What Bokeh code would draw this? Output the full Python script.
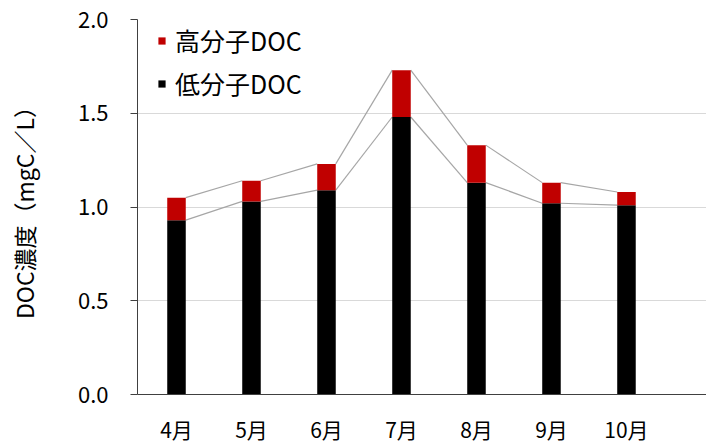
from bokeh.plotting import figure
from bokeh.models import ColumnDataSource, Range1d, FixedTicker, Legend, LegendItem
from bokeh.embed import file_html
from bokeh.resources import INLINE

# Monthly DOC concentration (mgC/L), split by molecular size
months = ["4月", "5月", "6月", "7月", "8月", "9月", "10月"]
low_doc = [0.93, 1.03, 1.09, 1.48, 1.13, 1.02, 1.01]   # 低分子DOC
high_doc = [0.12, 0.11, 0.14, 0.25, 0.20, 0.11, 0.07]  # 高分子DOC
y_ticks = [0.0, 0.5, 1.0, 1.5, 2.0]

FONT = "Noto Sans CJK JP"
BAR_W = 0.247

xs = list(range(len(months)))
totals = [a + b for a, b in zip(low_doc, high_doc)]
src = ColumnDataSource(dict(x=xs, low=low_doc, high=high_doc))

p = figure(width=706, height=446, output_backend="svg", toolbar_location=None,
           x_range=Range1d(-0.52, 7.067), y_range=Range1d(0, 2.0),
           min_border_left=137, min_border_right=0, min_border_top=19,
           min_border_bottom=49)
p.outline_line_color = None
p.background_fill_color = "white"
p.border_fill_color = "white"

# series lines joining the bar corners of neighbouring months
def series_lines(vals):
    return dict(x0=[x + BAR_W / 2 for x in xs[:-1]], x1=[x - BAR_W / 2 for x in xs[1:]],
                y0=vals[:-1], y1=vals[1:])

p.segment(source=ColumnDataSource(series_lines(low_doc)), x0="x0", y0="y0", x1="x1", y1="y1",
          line_color="#a6a6a6", line_width=1.2)
p.segment(source=ColumnDataSource(series_lines(totals)), x0="x0", y0="y0", x1="x1", y1="y1",
          line_color="#a6a6a6", line_width=1.2)

r_low, r_high = p.vbar_stack(["low", "high"], x="x", width=BAR_W, source=src,
                             fill_color=["#000000", "#c00000"], line_color=None)

# axes
p.xaxis.ticker = FixedTicker(ticks=xs)
p.xaxis.major_label_overrides = {i: m for i, m in enumerate(months)}
p.xaxis.major_tick_out = 0
p.xaxis.major_tick_in = 0
p.xaxis.minor_tick_line_color = None
p.xaxis.major_label_standoff = 19
p.xaxis.axis_line_color = "#404040"
p.xaxis.major_label_text_font = FONT
p.xaxis.major_label_text_font_size = "21px"
p.xaxis.major_label_text_color = "black"

p.yaxis.ticker = FixedTicker(ticks=y_ticks)
p.yaxis.formatter.use_scientific = False
p.yaxis.major_label_overrides = {t: f"{t:.1f}" for t in y_ticks}
p.yaxis.major_tick_out = 7
p.yaxis.major_tick_in = 0
p.yaxis.minor_tick_line_color = None
p.yaxis.axis_line_color = "#404040"
p.yaxis.major_tick_line_color = "#404040"
p.yaxis.major_label_standoff = 22
p.yaxis.major_label_text_font = FONT
p.yaxis.major_label_text_font_size = "22px"
p.yaxis.major_label_text_color = "black"
p.yaxis.axis_label = "DOC濃度（mgC／L）"
p.yaxis.axis_label_text_font = FONT
p.yaxis.axis_label_text_font_style = "normal"
p.yaxis.axis_label_text_font_size = "23px"
p.yaxis.axis_label_text_color = "black"
p.yaxis.axis_label_standoff = 34

p.xgrid.grid_line_color = None
p.ygrid.ticker = FixedTicker(ticks=y_ticks)
p.ygrid.grid_line_color = "#d9d9d9"
p.ygrid.grid_line_width = 1

legend = Legend(items=[LegendItem(label="高分子DOC", renderers=[r_high]),
                       LegendItem(label="低分子DOC", renderers=[r_low])],
                location=(20, 293), orientation="vertical",
                glyph_width=9, glyph_height=9, label_standoff=9, spacing=7,
                padding=0, margin=0, border_line_color=None, background_fill_alpha=0,
                label_text_font=FONT, label_text_font_size="25px",
                label_text_color="black")
p.add_layout(legend, "center")

open("out.html", "w").write(file_html(p, INLINE))
